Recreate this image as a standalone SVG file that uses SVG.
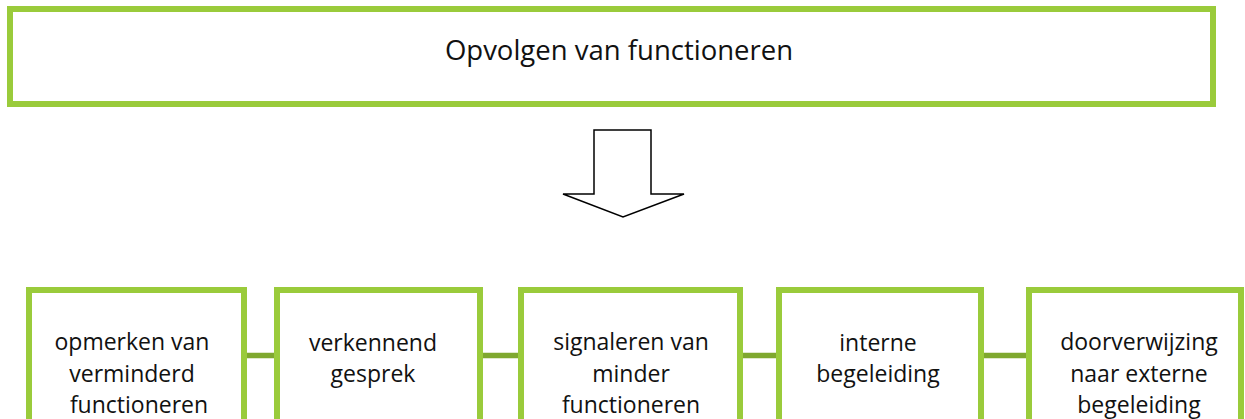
<svg xmlns="http://www.w3.org/2000/svg" width="1245" height="419" viewBox="0 0 1245 419">
<style>
.box{fill:#ffffff;stroke:#9acb3b;stroke-width:6}
.conn{stroke:#7fa82f;stroke-width:5.5;fill:none}
.t{font-family:"Open Sans","Liberation Sans",sans-serif;fill:#111111;text-anchor:middle}
.tt{font-size:27.5px}
.bt{font-size:23px}
</style>
<rect width="1245" height="419" fill="#ffffff"/>
<g id="connectors">
<line class="conn" x1="244" y1="355.5" x2="277" y2="355.5"/>
<line class="conn" x1="480" y1="355.5" x2="521" y2="355.5"/>
<line class="conn" x1="740" y1="355.5" x2="779" y2="355.5"/>
<line class="conn" x1="981" y1="355.5" x2="1029" y2="355.5"/>
</g>
<g id="title">
<rect class="box" x="10" y="9" width="1203" height="95"/>
<text class="t tt" x="619" y="60">Opvolgen van functioneren</text>
</g>
<g id="arrow">
<polygon points="594,130 651,130 651,194 684,194 623,217 563,194 594,194" fill="#ffffff" stroke="#000000" stroke-width="1.5" stroke-linejoin="miter"/>
</g>
<g id="n1">
<rect class="box" x="29" y="290" width="215" height="160"/>
<text class="t bt" x="132" y="350">opmerken van</text>
<text class="t bt" x="132" y="382">verminderd</text>
<text class="t bt" x="139" y="413">functioneren</text>
</g>
<g id="n2">
<rect class="box" x="277" y="290" width="203" height="160"/>
<text class="t bt" x="373" y="351">verkennend</text>
<text class="t bt" x="373" y="382">gesprek</text>
</g>
<g id="n3">
<rect class="box" x="521" y="290" width="219" height="160"/>
<text class="t bt" x="631" y="350">signaleren van</text>
<text class="t bt" x="631" y="382">minder</text>
<text class="t bt" x="631" y="413">functioneren</text>
</g>
<g id="n4">
<rect class="box" x="779" y="290" width="202" height="160"/>
<text class="t bt" x="878" y="351">interne</text>
<text class="t bt" x="878" y="382">begeleiding</text>
</g>
<g id="n5">
<rect class="box" x="1029" y="290" width="212" height="160"/>
<text class="t bt" x="1139" y="350">doorverwijzing</text>
<text class="t bt" x="1139" y="382">naar externe</text>
<text class="t bt" x="1139" y="413">begeleiding</text>
</g>
</svg>
